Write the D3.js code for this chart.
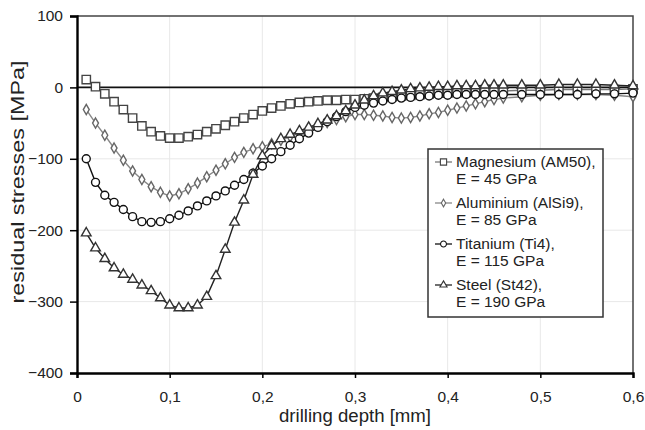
<!DOCTYPE html>
<html>
<head>
<meta charset="utf-8">
<script src="https://cdn.jsdelivr.net/npm/d3@7"></script>
<style>
  body { margin: 0; background: #fff; }
  svg { font-family: "Liberation Sans", Arial, sans-serif; }
</style>
</head>
<body>
<div id="chart"></div>
<script>
// drilling depth steps [mm]
const depth = [0.01, 0.02, 0.03, 0.04, 0.05, 0.06, 0.07, 0.08, 0.09, 0.10,
  0.11, 0.12, 0.13, 0.14, 0.15, 0.16, 0.17, 0.18, 0.19, 0.20,
  0.21, 0.22, 0.23, 0.24, 0.25, 0.26, 0.27, 0.28, 0.29, 0.30,
  0.31, 0.32, 0.33, 0.34, 0.35, 0.36, 0.37, 0.38, 0.39, 0.40,
  0.41, 0.42, 0.43, 0.44, 0.45, 0.46,
  0.48, 0.50, 0.52, 0.54, 0.56, 0.58, 0.60];

// residual stresses [MPa]
const magnesium = [11, 1, -9, -20, -31, -43, -54, -62, -68, -71,
  -71, -69, -66, -62, -58, -53, -48, -43, -38, -33,
  -29, -26, -23, -21, -20, -19, -18, -18, -17, -17,
  -16, -15, -14, -13, -12, -11, -10, -9, -8, -8,
  -7, -7, -6, -6, -5, -5,
  -4, -4, -3, -3, -3, -3, -2];

const aluminium = [-31, -50, -67, -85, -102, -117, -129, -139, -147, -152,
  -149, -142, -134, -125, -116, -107, -98, -91, -86, -83,
  -79, -74, -69, -64, -59, -54, -49, -45, -41, -38,
  -38, -39, -40, -42, -43, -42, -40, -37, -35, -32,
  -29, -26, -23, -20, -17, -15,
  -13, -11, -10, -10, -10, -11, -13];

const titanium = [-100, -133, -151, -161, -171, -181, -188, -189, -188, -184,
  -179, -173, -166, -159, -152, -145, -137, -129, -120, -110,
  -100, -90, -81, -72, -64, -56, -48, -41, -34, -28,
  -25, -22, -19, -17, -15, -14, -13, -12, -11, -11,
  -10, -10, -10, -10, -10, -10,
  -10, -10, -10, -10, -9, -9, -8];

const steel = [-204, -225, -240, -253, -262, -269, -277, -285, -295, -305,
  -309, -309, -305, -293, -264, -227, -189, -158, -122, -96,
  -82, -72, -66, -61, -56, -51, -46, -40, -33, -25,
  -18, -12, -8, -6, -4, -2, -1, 0, 1, 1,
  2, 2, 2, 3, 3, 3,
  3, 3, 4, 4, 4, 3, 2];

const seriesNames = ["Magnesium (AM50),", "Aluminium (AlSi9),", "Titanium (Ti4),", "Steel (St42),"];
const seriesModulus = ["E = 45 GPa", "E = 85 GPa", "E = 115 GPa", "E = 190 GPa"];

const xTicks = [0, 0.1, 0.2, 0.3, 0.4, 0.5, 0.6];
const yTicks = [-400, -300, -200, -100, 0, 100];

const width = 645, height = 430;
const margin = {left: 77, right: 12, top: 16, bottom: 57};

const x = d3.scaleLinear().domain([0, 0.6]).range([margin.left, width - margin.right]);
const y = d3.scaleLinear().domain([-400, 100]).range([height - margin.bottom, margin.top]);

// marker look per series
const styles = [
  {symbol: d3.symbolSquare, size: 70, stroke: "#444", line: "#777"},
  {symbol: d3.symbolDiamond, size: 30, stroke: "#666", line: "#888"},
  {symbol: d3.symbolCircle, size: 50, stroke: "#111", line: "#111"},
  {symbol: d3.symbolTriangle, size: 40, stroke: "#333", line: "#222"}
];

const series = [magnesium, aluminium, titanium, steel].map((vals, i) => ({
  name: seriesNames[i],
  modulus: seriesModulus[i],
  style: styles[i],
  points: vals.map((v, j) => ({depth: depth[j], stress: v}))
}));

const svg = d3.select("#chart").append("svg")
  .attr("width", width)
  .attr("height", height);

// faint grid
svg.append("g")
  .selectAll("line")
  .data(xTicks.slice(1, -1))
  .join("line")
  .attr("x1", d => x(d)).attr("x2", d => x(d))
  .attr("y1", y(100)).attr("y2", y(-400))
  .attr("stroke", "#e8e8e8");

svg.append("g")
  .selectAll("line")
  .data(yTicks.slice(1, -1))
  .join("line")
  .attr("x1", x(0)).attr("x2", x(0.6))
  .attr("y1", d => y(d)).attr("y2", d => y(d))
  .attr("stroke", "#e8e8e8");

// top and right frame
svg.append("path")
  .attr("d", `M${x(0)},${y(100)}H${x(0.6)}V${y(-400)}`)
  .attr("fill", "none")
  .attr("stroke", "#444")
  .attr("stroke-width", 1.5);

// zero line
svg.append("line")
  .attr("x1", x(0)).attr("x2", x(0.6))
  .attr("y1", y(0)).attr("y2", y(0))
  .attr("stroke", "#111")
  .attr("stroke-width", 1.6);

// axes
const fmt = d => d === 0 ? "0" : d3.format(".1f")(d).replace(".", ",");

const xAxis = svg.append("g")
  .attr("transform", `translate(0, ${y(-400)})`)
  .call(d3.axisBottom(x).tickValues(xTicks).tickFormat(fmt).tickSizeOuter(0).tickSize(5).tickPadding(13));

const yAxis = svg.append("g")
  .attr("transform", `translate(${x(0)}, 0)`)
  .call(d3.axisLeft(y).tickValues(yTicks).tickSizeOuter(0).tickSize(7).tickPadding(7));

[xAxis, yAxis].forEach(g => {
  g.select(".domain").attr("stroke", "#000").attr("stroke-width", 2.4);
  g.selectAll(".tick line").attr("stroke", "#000").attr("stroke-width", 1.5);
  g.selectAll(".tick text").attr("font-size", "15.5px").attr("fill", "#222")
    .attr("font-family", "Liberation Sans, Arial, sans-serif");
});

// axis titles (the picture is stretched a bit, so fix their lengths)
svg.append("text")
  .attr("x", (x(0) + x(0.6)) / 2)
  .attr("y", 422)
  .attr("text-anchor", "middle")
  .attr("font-size", "18px")
  .attr("fill", "#222")
  .attr("textLength", 152)
  .attr("lengthAdjust", "spacingAndGlyphs")
  .text("drilling depth [mm]");

svg.append("text")
  .attr("transform", "translate(24, 182) rotate(-90)")
  .attr("text-anchor", "middle")
  .attr("font-size", "18px")
  .attr("fill", "#222")
  .attr("textLength", 243)
  .attr("lengthAdjust", "spacingAndGlyphs")
  .text("residual stresses [MPa]");

// lines + markers
const line = d3.line().x(d => x(d.depth)).y(d => y(d.stress));

const groups = svg.selectAll(".series")
  .data(series)
  .join("g")
  .attr("class", "series");

groups.append("path")
  .attr("d", d => line(d.points))
  .attr("fill", "none")
  .attr("stroke", d => d.style.line)
  .attr("stroke-width", 1.4);

groups.selectAll(".marker")
  .data(d => d.points.map(p => ({p, style: d.style})))
  .join("path")
  .attr("class", "marker")
  .attr("transform", d => `translate(${x(d.p.depth)}, ${y(d.p.stress)})`)
  .attr("d", d => d3.symbol().type(d.style.symbol).size(d.style.size)())
  .attr("fill", "#fff")
  .attr("stroke", d => d.style.stroke)
  .attr("stroke-width", 1.4);

// legend
const legend = svg.append("g").attr("transform", "translate(428, 149)");

legend.append("rect")
  .attr("width", 175)
  .attr("height", 168)
  .attr("fill", "#fff")
  .attr("stroke", "#333")
  .attr("stroke-width", 1.5);

const items = legend.selectAll(".item")
  .data(series)
  .join("g")
  .attr("class", "item")
  .attr("transform", (d, i) => `translate(0, ${13 + i * 41})`);

items.append("line")
  .attr("x1", 7).attr("x2", 24)
  .attr("stroke", d => d.style.line)
  .attr("stroke-width", 1.3);

items.append("path")
  .attr("transform", "translate(15.5, 0)")
  .attr("d", d => d3.symbol().type(d.style.symbol).size(d.style.size * 0.55)())
  .attr("fill", "#fff")
  .attr("stroke", d => d.style.stroke)
  .attr("stroke-width", 1.1);

items.append("text")
  .attr("x", 28)
  .attr("y", 5)
  .attr("font-size", "15.5px")
  .attr("fill", "#222")
  .text(d => d.name);

items.append("text")
  .attr("x", 28)
  .attr("y", 22)
  .attr("font-size", "15.5px")
  .attr("fill", "#222")
  .text(d => d.modulus);
</script>
</body>
</html>
